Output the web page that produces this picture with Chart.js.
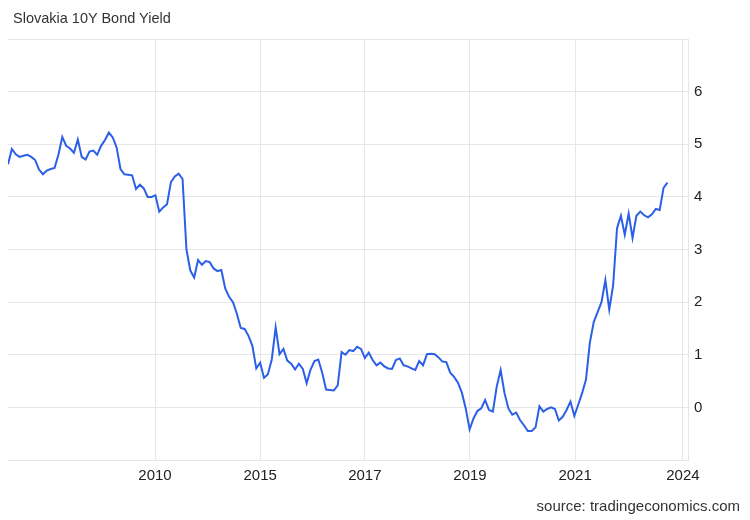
<!DOCTYPE html>
<html>
<head>
    <script src="https://cdn.jsdelivr.net/npm/chart.js@4.4.0/dist/chart.umd.min.js"></script>
    <style>
        html, body { margin: 0; padding: 0; background: #fff; }
        .box { position: relative; width: 750px; height: 520px; font-family: "Liberation Sans", Arial, sans-serif; color: #333; }
        .title { position: absolute; left: 13px; top: 10px; font-size: 14.5px; }
        .source { position: absolute; right: 10px; top: 497px; font-size: 15px; }
        canvas { position: absolute; left: 0; top: 0; }
    </style>
</head>
<body>
<div class="box">
    <canvas id="yieldChart" width="750" height="520"></canvas>
    <div class="title">Slovakia 10Y Bond Yield</div>
    <div class="source">source: tradingeconomics.com</div>
</div>

<script>
// monthly-ish readings, oldest first
const yieldValues = [
    4.62, 4.91, 4.81, 4.76, 4.78, 4.80, 4.76, 4.70, 4.52, 4.43,
    4.50, 4.53, 4.55, 4.80, 5.14, 4.97, 4.92, 4.84, 5.09, 4.76,
    4.71, 4.86, 4.88, 4.80, 4.97, 5.08, 5.22, 5.13, 4.94, 4.53,
    4.43, 4.42, 4.41, 4.15, 4.23, 4.16, 4.00, 4.00, 4.03, 3.72,
    3.80, 3.86, 4.28, 4.39, 4.44, 4.34, 3.00, 2.60, 2.47, 2.80,
    2.71, 2.78, 2.76, 2.64, 2.59, 2.61, 2.26, 2.10, 2.00, 1.78,
    1.51, 1.49, 1.36, 1.17, 0.74, 0.85, 0.56, 0.63, 0.91, 1.52,
    1.01, 1.11, 0.89, 0.83, 0.72, 0.83, 0.73, 0.46, 0.72, 0.88,
    0.91, 0.66, 0.34, 0.33, 0.32, 0.42, 1.05, 1.00, 1.09, 1.07,
    1.15, 1.11, 0.94, 1.04, 0.90, 0.80, 0.85, 0.78, 0.74, 0.73,
    0.90, 0.93, 0.80, 0.78, 0.74, 0.71, 0.88, 0.80, 1.01, 1.02,
    1.01, 0.95, 0.87, 0.86, 0.66, 0.58, 0.47, 0.28, -0.02, -0.42,
    -0.21, -0.07, -0.02, 0.14, -0.05, -0.08, 0.40, 0.71, 0.27, -0.02,
    -0.14, -0.10, -0.24, -0.34, -0.45, -0.45, -0.38, 0.02, -0.08, -0.03,
    0.00, -0.03, -0.25, -0.18, -0.05, 0.11, -0.16, 0.05, 0.27, 0.53,
    1.23, 1.62, 1.81, 2.00, 2.42, 1.86, 2.32, 3.40, 3.64, 3.28,
    3.68, 3.22, 3.64, 3.72, 3.65, 3.61, 3.67, 3.77, 3.75, 4.17,
    4.27
];

// x axis labels and the sample index each one sits on
const tickLabels = ['2010', '2015', '2017', '2019', '2021', '2024'];
const tickAt = [37.9, 65.0, 92.0, 119.1, 146.2, 174.0];
const xEnd = 175.3;

const yTicks = [0, 1, 2, 3, 4, 5, 6];

const gridColor = '#e6e6e6';

const config = {
    type: 'line',
    data: {
        datasets: [{
            label: 'Slovakia 10Y Bond Yield',
            data: yieldValues.map((v, i) => ({ x: i, y: v })),
            borderColor: '#2b60e6',
            borderWidth: 2,
            pointRadius: 0,
            tension: 0,
            fill: false
        }]
    },
    options: {
        responsive: false,
        animation: false,
        layout: { padding: { left: 8, top: 39, right: 0, bottom: 0 } },
        plugins: {
            legend: { display: false },
            title: { display: false },
            tooltip: { enabled: false }
        },
        scales: {
            x: {
                type: 'linear',
                min: 0,
                max: xEnd,
                afterBuildTicks: (scale) => {
                    scale.ticks = tickAt.map(v => ({ value: v }));
                },
                afterFit: (scale) => { scale.height = 60; },
                grid: { color: gridColor, drawTicks: false },
                border: { color: gridColor },
                ticks: {
                    autoSkip: false,
                    maxRotation: 0,
                    padding: 7,
                    color: '#222',
                    font: { family: '"Liberation Sans", Arial, sans-serif', size: 15 },
                    callback: (value) => {
                        const k = tickAt.indexOf(value);
                        return k >= 0 ? tickLabels[k] : '';
                    }
                }
            },
            y: {
                position: 'right',
                min: -1,
                max: 7,
                afterFit: (scale) => { scale.width = 62; },
                grid: { color: gridColor, drawTicks: false },
                border: { color: gridColor },
                ticks: {
                    stepSize: 1,
                    padding: 6,
                    color: '#222',
                    font: { family: '"Liberation Sans", Arial, sans-serif', size: 15 },
                    callback: (value) => yTicks.includes(value) ? String(value) : ''
                }
            }
        }
    }
};

const yieldChart = new Chart(document.getElementById('yieldChart'), config);
</script>
</body>
</html>
